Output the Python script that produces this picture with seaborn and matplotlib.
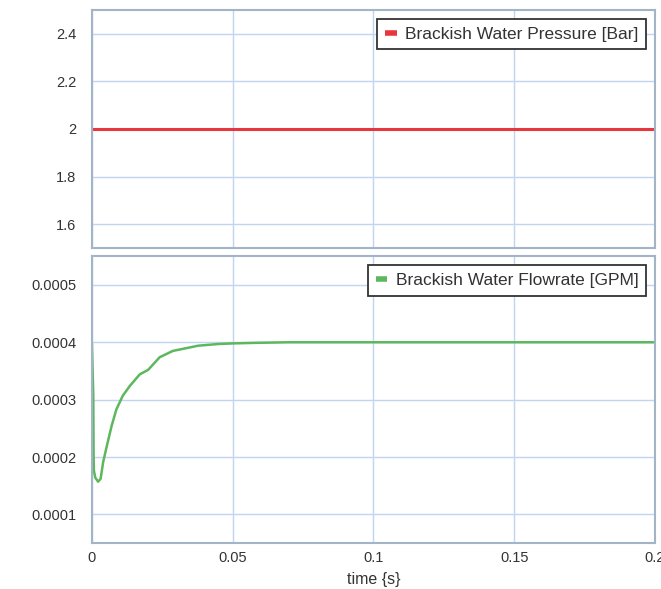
import matplotlib
matplotlib.use('Agg')
import matplotlib.pyplot as plt
import seaborn as sns
import pandas as pd

# pressure trace (constant)
pressure_t = [0.0, 0.05, 0.1, 0.15, 0.2]
pressure_v = [2.0, 2.0, 2.0, 2.0, 2.0]

# flowrate trace
flow_t = [0.0, 0.0005, 0.0006, 0.0007, 0.0012, 0.0022, 0.0031, 0.004, 0.0052,
          0.007, 0.0087, 0.011, 0.0135, 0.017, 0.02, 0.0241, 0.0288,
          0.0348, 0.0377, 0.045, 0.05, 0.058, 0.07, 0.1, 0.15, 0.2]
flow_v = [0.0004, 0.000307, 0.000209, 0.000177, 0.000164, 0.000157, 0.000162,
          0.000191, 0.000217, 0.000254, 0.000283, 0.000307, 0.000324, 0.000344,
          0.000352, 0.000374, 0.000385, 0.000391, 0.000394, 0.000397, 0.000398,
          0.000399, 0.0004, 0.0004, 0.0004, 0.0004]

pressure_label = "Brackish Water Pressure [Bar]"
flow_label = "Brackish Water Flowrate [GPM]"

df_p = pd.DataFrame({"time": pressure_t, "value": pressure_v})
df_f = pd.DataFrame({"time": flow_t, "value": flow_v})

sns.set_style("whitegrid")
plt.rcParams['font.family'] = ['Liberation Sans', 'DejaVu Sans']

grid_c = "#bfd5f0"
spine_c = "#a3b3c8"
text_c = "#333333"

fig = plt.figure(figsize=(6.61, 5.89), dpi=100)
ax1 = fig.add_axes([0.139, 0.579, 0.852, 0.404])
ax2 = fig.add_axes([0.139, 0.078, 0.852, 0.487])

sns.lineplot(df_p, x="time", y="value", ax=ax1, color="#e8373c", linewidth=2.2,
             label=pressure_label)
sns.lineplot(df_f, x="time", y="value", ax=ax2, color="#5cb85c", linewidth=1.8,
             label=flow_label)

ax1.set_ylim(1.5, 2.5)
ax1.set_yticks([1.6, 1.8, 2.0, 2.2, 2.4])
ax1.set_yticklabels(["1.6", "1.8", "2", "2.2", "2.4"])
ax2.set_ylim(0.00005, 0.00055)
ax2.set_yticks([0.0001, 0.0002, 0.0003, 0.0004, 0.0005])
ax2.set_yticklabels(["0.0001", "0.0002", "0.0003", "0.0004", "0.0005"])

for ax in (ax1, ax2):
    ax.set_xlim(0, 0.2)
    ax.set_xticks([0, 0.05, 0.1, 0.15, 0.2])
    ax.grid(True, color=grid_c, linewidth=1.0)
    ax.set_ylabel("")
    ax.set_xlabel("")
    for s in ax.spines.values():
        s.set_color(spine_c)
        s.set_linewidth(1.5)
    ax.tick_params(axis='both', length=0, labelsize=10.5, labelcolor=text_c)
    ax.tick_params(axis='y', pad=11)
    ax.tick_params(axis='x', pad=6)
    leg = ax.legend(loc="upper right", fontsize=12.5, handlelength=0.65,
                    handletextpad=0.5, fancybox=False, framealpha=1,
                    borderaxespad=0.5, borderpad=0.45)
    leg.get_frame().set_edgecolor("#333333")
    leg.get_frame().set_linewidth(1.3)
    for h in leg.get_lines():
        h.set_linewidth(4)
        h.set_solid_capstyle("butt")
    for t in leg.get_texts():
        t.set_color(text_c)

ax1.set_xticklabels([])
ax2.set_xticklabels(["0", "0.05", "0.1", "0.15", "0.2"])
ax2.set_xlabel("time {s}", fontsize=11.5, color=text_c, labelpad=5)

plt.savefig("out.png", dpi=100)
plt.close()
